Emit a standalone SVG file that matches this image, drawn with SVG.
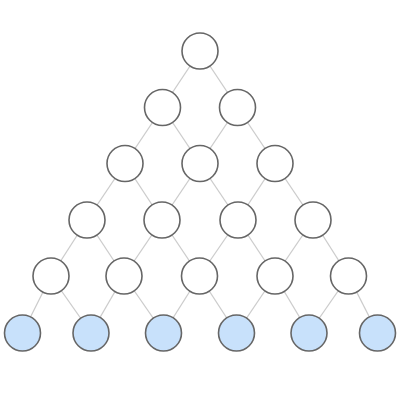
<svg xmlns="http://www.w3.org/2000/svg" width="400" height="400" viewBox="0 0 400 400">
<style>
.n{fill:#ffffff;stroke:#666666;stroke-width:1.6}
.leaf{fill:#c8e1fb;stroke:#666666;stroke-width:1.6}
.e line{stroke:#cccccc;stroke-width:1.3}
</style>
<rect width="400" height="400" fill="#ffffff"/>
<g class="e" id="edges">
<line x1="200" y1="51" x2="162.5" y2="107.5"/>
<line x1="200" y1="51" x2="237.5" y2="107.5"/>
<line x1="162.5" y1="107.5" x2="125" y2="163.5"/>
<line x1="162.5" y1="107.5" x2="200" y2="163.5"/>
<line x1="237.5" y1="107.5" x2="200" y2="163.5"/>
<line x1="237.5" y1="107.5" x2="275" y2="163.5"/>
<line x1="125" y1="163.5" x2="87" y2="220"/>
<line x1="125" y1="163.5" x2="162" y2="220"/>
<line x1="200" y1="163.5" x2="162" y2="220"/>
<line x1="200" y1="163.5" x2="238" y2="220"/>
<line x1="275" y1="163.5" x2="238" y2="220"/>
<line x1="275" y1="163.5" x2="313" y2="220"/>
<line x1="87" y1="220" x2="51" y2="276"/>
<line x1="87" y1="220" x2="124" y2="276"/>
<line x1="162" y1="220" x2="124" y2="276"/>
<line x1="162" y1="220" x2="199.5" y2="276"/>
<line x1="238" y1="220" x2="199.5" y2="276"/>
<line x1="238" y1="220" x2="275" y2="276"/>
<line x1="313" y1="220" x2="275" y2="276"/>
<line x1="313" y1="220" x2="348.5" y2="276"/>
<line x1="51" y1="276" x2="22.5" y2="333"/>
<line x1="51" y1="276" x2="91" y2="333"/>
<line x1="124" y1="276" x2="91" y2="333"/>
<line x1="124" y1="276" x2="163.5" y2="333"/>
<line x1="199.5" y1="276" x2="163.5" y2="333"/>
<line x1="199.5" y1="276" x2="236.5" y2="333"/>
<line x1="275" y1="276" x2="236.5" y2="333"/>
<line x1="275" y1="276" x2="309" y2="333"/>
<line x1="348.5" y1="276" x2="309" y2="333"/>
<line x1="348.5" y1="276" x2="377.5" y2="333"/>
</g>
<g id="n0"><circle class="n" cx="200" cy="51" r="18"/></g>
<g id="n1"><circle class="n" cx="162.5" cy="107.5" r="18"/></g>
<g id="n2"><circle class="n" cx="237.5" cy="107.5" r="18"/></g>
<g id="n3"><circle class="n" cx="125" cy="163.5" r="18"/></g>
<g id="n4"><circle class="n" cx="200" cy="163.5" r="18"/></g>
<g id="n5"><circle class="n" cx="275" cy="163.5" r="18"/></g>
<g id="n6"><circle class="n" cx="87" cy="220" r="18"/></g>
<g id="n7"><circle class="n" cx="162" cy="220" r="18"/></g>
<g id="n8"><circle class="n" cx="238" cy="220" r="18"/></g>
<g id="n9"><circle class="n" cx="313" cy="220" r="18"/></g>
<g id="n10"><circle class="n" cx="51" cy="276" r="18"/></g>
<g id="n11"><circle class="n" cx="124" cy="276" r="18"/></g>
<g id="n12"><circle class="n" cx="199.5" cy="276" r="18"/></g>
<g id="n13"><circle class="n" cx="275" cy="276" r="18"/></g>
<g id="n14"><circle class="n" cx="348.5" cy="276" r="18"/></g>
<g id="n15"><circle class="leaf" cx="22.5" cy="333" r="18"/></g>
<g id="n16"><circle class="leaf" cx="91" cy="333" r="18"/></g>
<g id="n17"><circle class="leaf" cx="163.5" cy="333" r="18"/></g>
<g id="n18"><circle class="leaf" cx="236.5" cy="333" r="18"/></g>
<g id="n19"><circle class="leaf" cx="309" cy="333" r="18"/></g>
<g id="n20"><circle class="leaf" cx="377.5" cy="333" r="18"/></g>
</svg>
